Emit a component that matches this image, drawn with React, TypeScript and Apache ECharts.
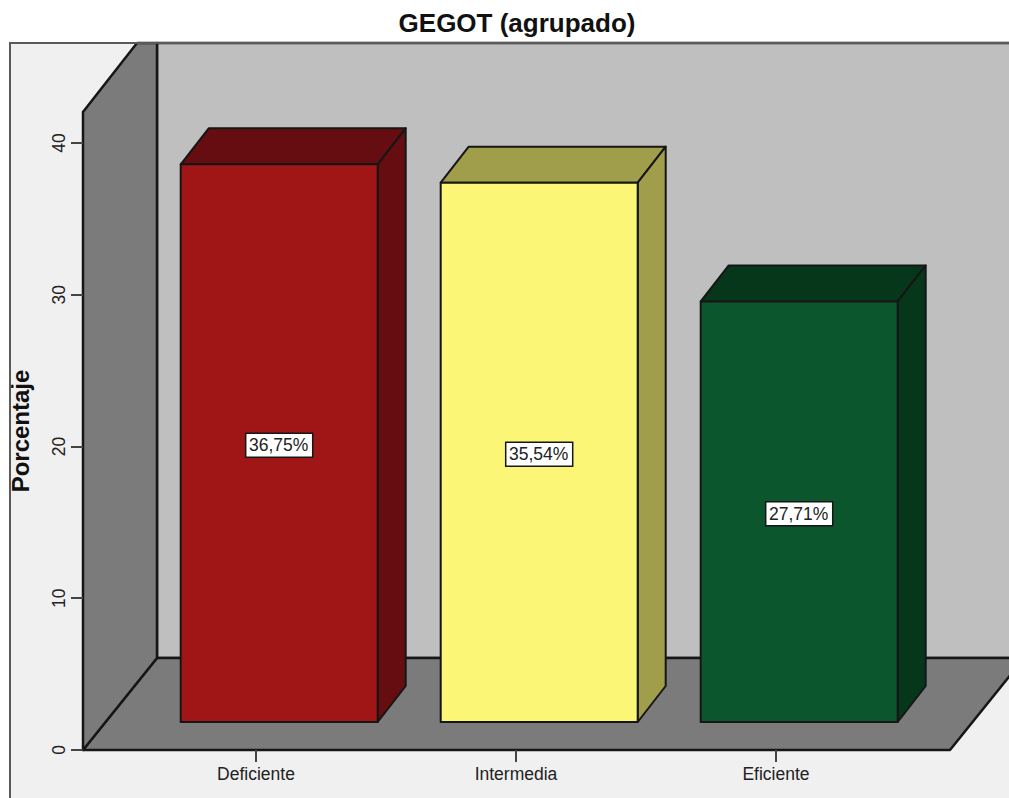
import React, { useEffect, useRef } from "react";
import * as echarts from "echarts";

const categories = ["Deficiente", "Intermedia", "Eficiente"];
const percentages = [36.75, 35.54, 27.71];
const frontColors = ["#A01516", "#FBF675", "#0B562C"];
const topColors = ["#650D10", "#A09E4B", "#06371B"];
const yTicks = [0, 10, 20, 30, 40];

const FONT = '"Liberation Sans", Arial, sans-serif';
const LINE = "#161616";
const BAR_W = 197;
const BAR_SHIFT_X = 23.2;
const BAR_LIFT = 28;
const DEPTH_X = 28;
const DEPTH_Y = 36;

const fmt = (v: number) => v.toFixed(2).replace(".", ",") + "%";

function renderBar(_p: any, api: any) {
  const i = api.value(0);
  const v = api.value(1);
  const top = api.coord([i, v]);
  const base = api.coord([i, 0]);
  const l = top[0] + BAR_SHIFT_X - BAR_W / 2;
  const r = l + BAR_W;
  const t = top[1] - BAR_LIFT;
  const b = base[1] - BAR_LIFT;
  const stroke = { stroke: LINE, lineWidth: 2, lineJoin: "round" };
  const midY = (t + b) / 2 + 2;
  const midX = (l + r) / 2;
  return {
    type: "group",
    children: [
      {
        type: "polygon",
        shape: { points: [[l, t], [l + DEPTH_X, t - DEPTH_Y], [r + DEPTH_X, t - DEPTH_Y], [r, t]] },
        style: { fill: topColors[i], ...stroke },
      },
      {
        type: "polygon",
        shape: { points: [[r, t], [r + DEPTH_X, t - DEPTH_Y], [r + DEPTH_X, b - DEPTH_Y], [r, b]] },
        style: { fill: topColors[i], ...stroke },
      },
      {
        type: "rect",
        shape: { x: l, y: t, width: BAR_W, height: b - t },
        style: { fill: frontColors[i], ...stroke },
      },
      {
        type: "rect",
        shape: { x: midX - 33.5, y: midY - 12, width: 67, height: 24 },
        style: { fill: "#FFFFFF", stroke: LINE, lineWidth: 1.5 },
      },
      {
        type: "text",
        x: midX - 0.5,
        y: midY,
        style: {
          text: fmt(v),
          fill: "#222222",
          font: `17.5px ${FONT}`,
          align: "center",
          verticalAlign: "middle",
        },
      },
    ],
  };
}

export default function App() {
  const ref = useRef<HTMLDivElement>(null);
  useEffect(() => {
    document.body.style.margin = "0";
    const chart = echarts.init(ref.current!, null, { renderer: "svg" });
    const wall = { stroke: LINE, lineWidth: 2.5, lineJoin: "round" };
    chart.setOption({
      animation: false,
      backgroundColor: "#FFFFFF",
      title: {
        text: "GEGOT (agrupado)",
        left: 512,
        top: 5,
        textAlign: "center",
        textStyle: { fontFamily: FONT, fontSize: 26, fontWeight: "bold", color: "#111111" },
      },
      grid: { left: 126, right: 103, top: 112, bottom: 48, containLabel: false, outerBoundsMode: "none" },
      xAxis: {
        type: "category",
        data: categories,
        axisLine: { show: false },
        axisTick: { show: true, alignWithLabel: true, length: 12, lineStyle: { color: "#444444", width: 2 } },
        axisLabel: { fontFamily: FONT, fontSize: 17.5, color: "#222222", margin: 15 },
      },
      yAxis: {
        type: "value",
        min: 0,
        max: 42.04,
        interval: 10,
        offset: 43,
        name: "Porcentaje",
        nameLocation: "middle",
        nameRotate: 90,
        nameGap: 51,
        nameTextStyle: { fontFamily: FONT, fontSize: 24, fontWeight: "bold", color: "#111111" },
        axisLine: { show: false },
        axisTick: { show: true, length: 12, customValues: yTicks, lineStyle: { color: "#444444", width: 2 } },
        axisLabel: { fontFamily: FONT, fontSize: 17.5, color: "#222222", rotate: 90, margin: 15, customValues: yTicks },
        splitLine: { show: false },
      },
      graphic: {
        elements: [
          { type: "rect", z: -10, shape: { x: 10, y: 43, width: 1100, height: 800 }, style: { fill: "#F0F0F0" } },
          { type: "polygon", z: -9, shape: { points: [[157, 43], [1030, 43], [1030, 658], [157, 658]] }, style: { fill: "#BFBFBF", ...wall } },
          { type: "polygon", z: -8, shape: { points: [[83, 750], [950, 750], [1024, 658], [157, 658]] }, style: { fill: "#7B7B7B", ...wall } },
          { type: "polygon", z: -7, shape: { points: [[83, 750], [83, 112], [137, 43], [157, 43], [157, 658]] }, style: { fill: "#7B7B7B", ...wall } },
          { type: "rect", z: -6, shape: { x: 10, y: 43, width: 1100, height: 800 }, style: { fill: "none", stroke: "#5A5A5A", lineWidth: 2 } },
        ],
      },
      series: [
        {
          type: "custom",
          renderItem: renderBar,
          encode: { x: 0, y: 1 },
          clip: false,
          data: percentages.map((v, i) => [i, v]),
        },
      ],
    });
    return () => chart.dispose();
  }, []);
  return <div ref={ref} style={{ width: 1009, height: 798 }} />;
}
